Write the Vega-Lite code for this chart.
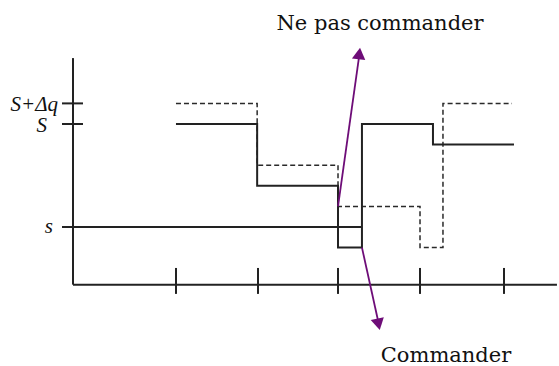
{
  "$schema": "https://vega.github.io/schema/vega-lite/v6.json",
  "width": 559,
  "height": 366,
  "autosize": "none",
  "padding": 0,
  "background": "white",
  "config": {"view": {"stroke": null}},
  "datasets": {
    "axes": [
      {"x": -0.256, "y": 4.4, "x2": 5.646, "y2": 4.4},
      {"x": -0.256, "y": 4.4, "x2": -0.256, "y2": 26.4}
    ],
    "yticks": [
      {"x": -0.39, "x2": -0.134, "y": 22},
      {"x": -0.39, "x2": -0.134, "y": 20},
      {"x": -0.39, "x2": -0.134, "y": 10}
    ],
    "xticks": [
      {"x": 1, "y": 6.02, "y2": 3.5},
      {"x": 2, "y": 6.02, "y2": 3.5},
      {"x": 2.976, "y": 6.02, "y2": 3.5},
      {"x": 3.976, "y": 6.02, "y2": 3.5},
      {"x": 5.0, "y": 6.02, "y2": 3.5}
    ],
    "solid": [
      {"t": 1, "v": 20},
      {"t": 1.99, "v": 14},
      {"t": 2.976, "v": 8},
      {"t": 3.268, "v": 20},
      {"t": 4.134, "v": 18},
      {"t": 5.122, "v": 18}
    ],
    "dashed": [
      {"t": 1, "v": 22},
      {"t": 1.99, "v": 16},
      {"t": 2.976, "v": 12},
      {"t": 3.976, "v": 8},
      {"t": 4.256, "v": 22},
      {"t": 5.098, "v": 22}
    ],
    "sline": [
      {"x": -0.256, "x2": 3.268, "y": 10}
    ],
    "arrows": [
      {"x": 2.976, "y": 12, "x2": 3.236, "y2": 26.7},
      {"x": 3.268, "y": 8, "x2": 3.47, "y2": 0.7}
    ],
    "heads": [
      {"x": 3.236, "y": 26.85, "angle": 7},
      {"x": 3.47, "y": 0.55, "angle": 167.6}
    ],
    "labels": [
      {"x": 3.488, "y": 29.13, "label": "Ne pas commander"},
      {"x": 4.293, "y": -3.11, "label": "Commander"}
    ],
    "ylabels": [
      {"x": -0.439, "y": 21.26, "label": "S+Δq"},
      {"x": -0.573, "y": 19.22, "label": "S"},
      {"x": -0.5, "y": 9.42, "label": "s"}
    ]
  },
  "layer": [
    {
      "data": {"name": "axes"},
      "mark": {"type": "rule", "stroke": "#222222", "strokeWidth": 2},
      "encoding": {
        "x": {"field": "x", "type": "quantitative", "scale": {"domain": [-1.146, 5.671], "nice": false, "zero": false}, "axis": null},
        "y": {"field": "y", "type": "quantitative", "scale": {"domain": [-3.5, 32.04], "nice": false, "zero": false}, "axis": null},
        "x2": {"field": "x2"},
        "y2": {"field": "y2"}
      }
    },
    {
      "data": {"name": "yticks"},
      "mark": {"type": "rule", "stroke": "#222222", "strokeWidth": 2},
      "encoding": {
        "x": {"field": "x", "type": "quantitative"},
        "x2": {"field": "x2"},
        "y": {"field": "y", "type": "quantitative"}
      }
    },
    {
      "data": {"name": "xticks"},
      "mark": {"type": "rule", "stroke": "#222222", "strokeWidth": 2},
      "encoding": {
        "x": {"field": "x", "type": "quantitative"},
        "y": {"field": "y", "type": "quantitative"},
        "y2": {"field": "y2"}
      }
    },
    {
      "data": {"name": "sline"},
      "mark": {"type": "rule", "stroke": "#222222", "strokeWidth": 2},
      "encoding": {
        "x": {"field": "x", "type": "quantitative"},
        "x2": {"field": "x2"},
        "y": {"field": "y", "type": "quantitative"}
      }
    },
    {
      "data": {"name": "dashed"},
      "mark": {"type": "line", "interpolate": "step-after", "stroke": "#2a2a2a", "strokeWidth": 1.5, "strokeDash": [5, 3]},
      "encoding": {
        "x": {"field": "t", "type": "quantitative"},
        "y": {"field": "v", "type": "quantitative"}
      }
    },
    {
      "data": {"name": "solid"},
      "mark": {"type": "line", "interpolate": "step-after", "stroke": "#222222", "strokeWidth": 2},
      "encoding": {
        "x": {"field": "t", "type": "quantitative"},
        "y": {"field": "v", "type": "quantitative"}
      }
    },
    {
      "data": {"name": "arrows"},
      "mark": {"type": "rule", "stroke": "#6e0d78", "strokeWidth": 1.8},
      "encoding": {
        "x": {"field": "x", "type": "quantitative"},
        "y": {"field": "y", "type": "quantitative"},
        "x2": {"field": "x2"},
        "y2": {"field": "y2"}
      }
    },
    {
      "data": {"name": "heads"},
      "mark": {"type": "point", "shape": "triangle-up", "filled": true, "fill": "#6e0d78", "opacity": 1, "size": 180},
      "encoding": {
        "x": {"field": "x", "type": "quantitative"},
        "y": {"field": "y", "type": "quantitative"},
        "angle": {"field": "angle", "type": "quantitative", "scale": null}
      }
    },
    {
      "data": {"name": "labels"},
      "mark": {"type": "text", "font": "DejaVu Serif", "fontSize": 21, "fill": "#111111", "align": "center", "baseline": "alphabetic"},
      "encoding": {
        "x": {"field": "x", "type": "quantitative"},
        "y": {"field": "y", "type": "quantitative"},
        "text": {"field": "label"}
      }
    },
    {
      "data": {"name": "ylabels"},
      "mark": {"type": "text", "font": "Liberation Serif", "fontStyle": "italic", "fontSize": 21, "fill": "#111111", "align": "right", "baseline": "alphabetic"},
      "encoding": {
        "x": {"field": "x", "type": "quantitative"},
        "y": {"field": "y", "type": "quantitative"},
        "text": {"field": "label"}
      }
    }
  ]
}
